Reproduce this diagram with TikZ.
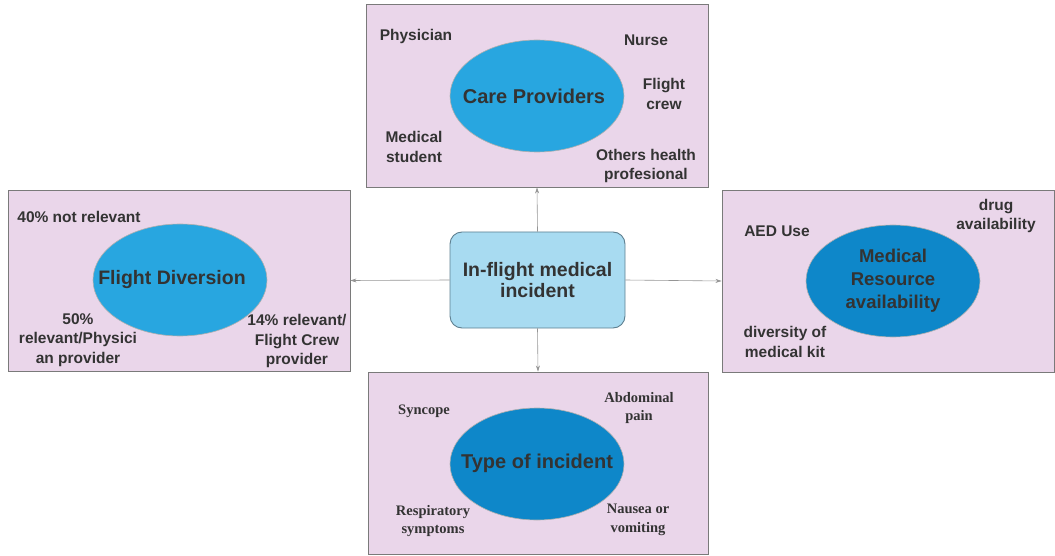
\documentclass[tikz,border=0pt]{standalone}
\usepackage{fontspec}
\setmainfont{Liberation Sans}
\newfontfamily\serifb{Liberation Serif}
\usetikzlibrary{arrows.meta,shapes.geometric}
\definecolor{boxfill}{HTML}{EAD6EA}
\definecolor{boxline}{HTML}{7A7A7A}
\definecolor{ellA}{HTML}{28A6E0}
\definecolor{ellB}{HTML}{0E87C9}
\definecolor{ctrfill}{HTML}{A8DBF1}
\definecolor{ctrline}{HTML}{5E7F90}
\definecolor{txt}{HTML}{333333}
\begin{document}
\begin{tikzpicture}[x=1pt,y=-1pt,
  panel/.style={draw=boxline,fill=boxfill,line width=0.9pt,inner sep=0},
  ellbox/.style={ellipse,draw=boxline!60,line width=0.6pt,inner sep=0,minimum width=174,minimum height=112},
  etxt/.style={text=txt,align=center,inner sep=0,font=\bfseries\fontsize{20}{23}\selectfont},
  lbl/.style={text=txt,align=center,font=\bfseries\fontsize{15.5}{19.5}\selectfont,inner sep=0},
  slbl/.style={text=txt,align=center,font=\serifb\bfseries\fontsize{14.5}{18.5}\selectfont,inner sep=0},
  conn/.style={draw=boxline!80,line width=0.6pt,-{Stealth[length=6pt,width=4pt]}}]
\useasboundingbox (0,0) rectangle (1055,556);
% panels
\node[panel,minimum width=342,minimum height=183] (top) at (537,95.5) {};
\node[panel,minimum width=342,minimum height=181] (left) at (179,280.5) {};
\node[panel,minimum width=332,minimum height=182] (right) at (888,281) {};
\node[panel,minimum width=340,minimum height=182] (bottom) at (538,463) {};
% center
\node[draw=ctrline,fill=ctrfill,line width=0.9pt,rounded corners=12,minimum width=175,minimum height=96,text=txt,align=center,font=\bfseries\fontsize{19.5}{21}\selectfont] (ctr) at (537.5,280) {In-flight medical\\incident};
% ellipses
\node[ellbox,fill=ellA] (care) at (537,96) {};
\node[ellbox,fill=ellA] (div) at (180,280) {};
\node[ellbox,fill=ellB] (res) at (893,281) {};
\node[ellbox,fill=ellB] (type) at (537,464) {};
\node[etxt] (caret) at (534,96) {Care Providers};
\node[etxt,font=\bfseries\fontsize{19.5}{23}\selectfont] (divt) at (172,280) {Flight Diversion};
\node[etxt,font=\bfseries\fontsize{18.5}{23}\selectfont] (rest) at (893,281) {Medical\\Resource\\availability};
\node[etxt] (typet) at (537,463) {Type of incident};
% connectors
\draw[conn] (ctr.north) -- (top.south);
\draw[conn] (ctr.south) -- (bottom.north);
\draw[conn] (ctr.west) -- (left.east);
\draw[conn] (ctr.east) -- (right.west);
% top labels
\node[lbl] (l1) at (416,36) {Physician};
\node[lbl] (l2) at (646,40) {Nurse};
\node[lbl] (l3) at (664,94) {Flight\\crew};
\node[lbl] (l4) at (414,147) {Medical\\student};
\node[lbl] (l5) at (646,166) {Others health\\profesional};
% left labels
\node[lbl] (l6) at (79,217) {40\% not relevant};
\node[lbl] (l7) at (78,340) {50\%\\relevant/Physici\\an provider};
\node[lbl] (l8) at (297,341) {14\% relevant/\\Flight Crew\\provider};
% right labels
\node[lbl] (l9) at (777,231) {AED Use};
\node[lbl] (l10) at (996,216) {drug\\availability};
\node[lbl] (l11) at (785,342) {diversity of\\medical kit};
% bottom labels
\node[slbl] (l12) at (424,411) {Syncope};
\node[slbl] (l13) at (639,408) {Abdominal\\pain};
\node[slbl] (l14) at (433,521) {Respiratory\\symptoms};
\node[slbl] (l15) at (638,520) {Nausea or\\vomiting};
\end{tikzpicture}
\end{document}
